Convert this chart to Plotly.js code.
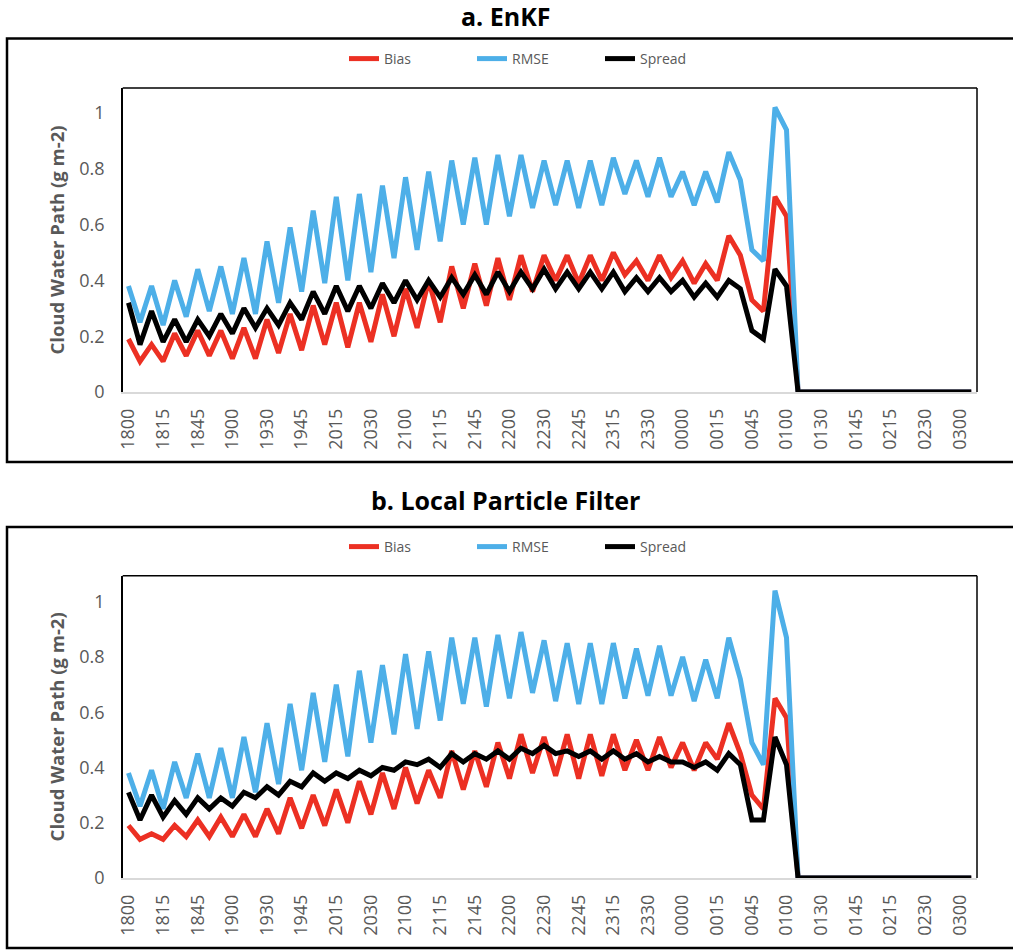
<!DOCTYPE html>
<html>
<head>
<meta charset="utf-8">
<script src="https://cdn.plot.ly/plotly-3.0.1.min.js"></script>
<style>html,body{margin:0;padding:0;background:#fff;}#chart{width:1013px;height:950px;}</style>
</head>
<body>
<div id="chart"></div>
<script>
// Tick labels shown on the category axis (every third category)
const tickLabels = ["1800","1815","1845","1900","1930","1945","2015","2030","2100","2115","2145","2200","2230","2245","2315","2330","0000","0015","0045","0100","0130","0145","0215","0230","0300"];
const seriesNames = ["Bias","RMSE","Spread"];
const seriesColors = ["#EC3023","#4DAFE8","#000000"];

// a. EnKF
const enkfBias = [0.19,0.11,0.17,0.11,0.21,0.13,0.22,0.13,0.22,0.12,
  0.23,0.12,0.26,0.14,0.28,0.15,0.31,0.17,0.32,0.16,
  0.32,0.18,0.35,0.20,0.37,0.23,0.40,0.25,0.45,0.30,
  0.46,0.31,0.48,0.33,0.49,0.36,0.49,0.40,0.49,0.39,
  0.49,0.40,0.50,0.42,0.47,0.40,0.49,0.41,0.47,0.39,
  0.46,0.40,0.56,0.49,0.33,0.29,0.70,0.63,
  0,0,0,0,0,0,0,0,0,0,0,0,0,0,0,0];
const enkfRMSE = [0.38,0.25,0.38,0.24,0.40,0.27,0.44,0.29,0.45,0.28,
  0.48,0.28,0.54,0.32,0.59,0.36,0.65,0.39,0.70,0.40,
  0.71,0.43,0.74,0.48,0.77,0.51,0.79,0.54,0.83,0.60,
  0.84,0.60,0.85,0.63,0.85,0.66,0.83,0.67,0.83,0.66,
  0.83,0.67,0.84,0.71,0.83,0.70,0.84,0.70,0.79,0.67,
  0.79,0.68,0.86,0.76,0.51,0.47,1.02,0.94,
  0,0,0,0,0,0,0,0,0,0,0,0,0,0,0,0];
const enkfSpread = [0.32,0.17,0.29,0.18,0.26,0.18,0.26,0.20,0.28,0.21,
  0.30,0.23,0.30,0.24,0.32,0.26,0.36,0.28,0.38,0.29,
  0.38,0.30,0.39,0.32,0.40,0.33,0.40,0.34,0.41,0.35,
  0.42,0.35,0.43,0.36,0.43,0.37,0.44,0.37,0.43,0.37,
  0.43,0.37,0.43,0.36,0.41,0.36,0.41,0.36,0.40,0.34,
  0.39,0.34,0.40,0.37,0.22,0.19,0.44,0.38,
  0,0,0,0,0,0,0,0,0,0,0,0,0,0,0,0];

// b. Local Particle Filter
const lpfBias = [0.19,0.14,0.16,0.14,0.19,0.15,0.21,0.15,0.22,0.15,
  0.23,0.15,0.25,0.16,0.29,0.18,0.30,0.19,0.32,0.20,
  0.35,0.23,0.38,0.25,0.40,0.27,0.39,0.29,0.46,0.32,
  0.46,0.33,0.49,0.36,0.52,0.38,0.51,0.37,0.52,0.36,
  0.52,0.37,0.52,0.39,0.50,0.39,0.51,0.40,0.49,0.39,
  0.49,0.43,0.56,0.45,0.30,0.25,0.65,0.58,
  0,0,0,0,0,0,0,0,0,0,0,0,0,0,0,0];
const lpfRMSE = [0.38,0.26,0.39,0.25,0.42,0.29,0.45,0.29,0.47,0.29,
  0.51,0.31,0.56,0.34,0.63,0.39,0.67,0.42,0.70,0.44,
  0.75,0.49,0.77,0.52,0.81,0.54,0.82,0.57,0.87,0.63,
  0.87,0.62,0.88,0.65,0.89,0.67,0.86,0.64,0.85,0.63,
  0.85,0.63,0.85,0.65,0.83,0.66,0.84,0.66,0.80,0.64,
  0.79,0.65,0.87,0.72,0.49,0.41,1.04,0.87,
  0,0,0,0,0,0,0,0,0,0,0,0,0,0,0,0];
const lpfSpread = [0.31,0.21,0.30,0.22,0.28,0.23,0.29,0.25,0.29,0.26,
  0.31,0.29,0.33,0.30,0.35,0.33,0.38,0.35,0.38,0.36,
  0.39,0.37,0.40,0.39,0.42,0.41,0.43,0.40,0.45,0.42,
  0.45,0.43,0.46,0.43,0.47,0.45,0.48,0.45,0.46,0.44,
  0.46,0.43,0.46,0.43,0.45,0.42,0.44,0.42,0.42,0.40,
  0.42,0.39,0.45,0.41,0.21,0.21,0.51,0.41,
  0,0,0,0,0,0,0,0,0,0,0,0,0,0,0,0];

const W = 1013, H = 950;
const px = v => v / W;
const py = v => 1 - v / H;
const FONT = "Open Sans";
const GREY = "#595959";

const nCat = enkfBias.length;
const xIdx = enkfBias.map((_, i) => i);
const tickVals = tickLabels.map((_, i) => i * 3);

function makeTraces(arrs, xa, ya, leg) {
  return arrs.map((arr, k) => ({
    x: xIdx, y: arr, type: "scatter", mode: "lines",
    name: seriesNames[k], xaxis: xa, yaxis: ya, legend: leg,
    line: {color: seriesColors[k], width: 5, shape: "linear"},
    hoverinfo: "skip"
  }));
}

const data = [
  ...makeTraces([enkfBias, enkfRMSE, enkfSpread], "x", "y", "legend"),
  ...makeTraces([lpfBias, lpfRMSE, lpfSpread], "x2", "y2", "legend2")
];

const plotL = 122.7, plotR = 977;
const panels = [{top: 88, bot: 392, ymax: 1.09}, {top: 575.7, bot: 878, ymax: 1.094}];

function xAxis(anchor) {
  return {
    domain: [px(plotL), px(plotR)], anchor: anchor,
    range: [-0.5, nCat - 0.5], tickmode: "array", tickvals: tickVals, ticktext: tickLabels,
    tickangle: -90, showgrid: false, zeroline: false, showline: true, linecolor: "#D9D9D9", linewidth: 1.5,
    ticks: "", ticklabelstandoff: 8,
    tickfont: {family: FONT, size: 18, color: GREY}
  };
}
function yAxis(anchor, p) {
  return {
    domain: [py(p.bot), py(p.top)], anchor: anchor,
    range: [0, p.ymax], tickvals: [0, 0.2, 0.4, 0.6, 0.8, 1], ticktext: ["0","0.2","0.4","0.6","0.8","1"],
    showgrid: false, zeroline: false, showline: true, linecolor: "#000", linewidth: 1.5,
    ticks: "", ticklabelstandoff: 13,
    tickfont: {family: FONT, size: 18, color: GREY},
    title: {text: "Cloud Water Path (g m-2)", font: {family: FONT, size: 18.5, color: GREY, weight: "bold"}, standoff: 10}
  };
}

const shapes = [];
// outer chart boxes
shapes.push({type: "rect", xref: "paper", yref: "paper", x0: px(7), x1: px(1020), y0: py(462), y1: py(38.5), line: {color: "#000", width: 2.5}});
shapes.push({type: "rect", xref: "paper", yref: "paper", x0: px(7), x1: px(1020), y0: py(948), y1: py(527), line: {color: "#000", width: 2.5}});
// plot area frame (top and right)
panels.forEach(p => {
  shapes.push({type: "line", xref: "paper", yref: "paper", x0: px(plotL), x1: px(plotR), y0: py(p.top), y1: py(p.top), line: {color: "#000", width: 1.5}});
  shapes.push({type: "line", xref: "paper", yref: "paper", x0: px(plotR), x1: px(plotR), y0: py(p.top), y1: py(p.bot), line: {color: "#000", width: 1.5}});
});

const legendBase = {
  orientation: "h", xanchor: "center", yanchor: "middle", xref: "paper", yref: "paper",
  font: {family: FONT, size: 14, color: GREY}, bgcolor: "rgba(0,0,0,0)",
  entrywidth: 83, entrywidthmode: "pixels", itemclick: false
};

const layout = {
  width: W, height: H, margin: {l: 0, r: 0, t: 0, b: 0},
  paper_bgcolor: "#fff", plot_bgcolor: "#fff",
  showlegend: true,
  xaxis: xAxis("y"), yaxis: yAxis("x", panels[0]),
  xaxis2: xAxis("y2"), yaxis2: yAxis("x2", panels[1]),
  legend: Object.assign({}, legendBase, {x: px(536), y: py(59)}),
  legend2: Object.assign({}, legendBase, {x: px(536), y: py(547)}),
  shapes: shapes,
  annotations: [
    {text: "a. EnKF", xref: "paper", yref: "paper", x: px(505), y: py(16), xanchor: "center", yanchor: "middle", showarrow: false,
     font: {family: FONT, size: 25, color: "#000", weight: "bold"}},
    {text: "b. Local Particle Filter", xref: "paper", yref: "paper", x: px(505), y: py(500), xanchor: "center", yanchor: "middle", showarrow: false,
     font: {family: FONT, size: 25, color: "#000", weight: "bold"}}
  ]
};

Plotly.newPlot("chart", data, layout, {staticPlot: true, displayModeBar: false});
</script>
</body>
</html>
